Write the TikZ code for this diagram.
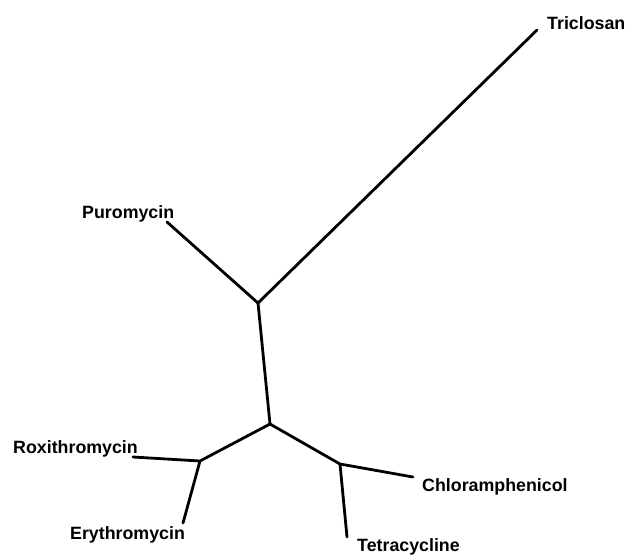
\documentclass[tikz,border=0pt]{standalone}
\usepackage{fontspec}
\setmainfont{Liberation Sans}
\begin{document}
\begin{tikzpicture}[x=1pt,y=-1pt,
  branch/.style={line width=2.8pt,line cap=round},
  taxon/.style={font=\fontsize{17.8}{20}\selectfont\bfseries,inner sep=0pt}]
\useasboundingbox (0,0) rectangle (628,555);
\coordinate (A) at (258,303);
\coordinate (B) at (270,424);
\coordinate (C) at (200,461);
\coordinate (D) at (340,464);
\coordinate (tT) at (537,30);
\coordinate (tP) at (167,222);
\coordinate (tR) at (133,457);
\coordinate (tE) at (183,523);
\coordinate (tC) at (413,477);
\coordinate (tTe) at (347,537);
\node[taxon,anchor=west] (Tri) at (547,23) {Triclosan};
\node[taxon,anchor=west] (Pur) at (82,214) {Puromycin};
\node[taxon,anchor=west] (Rox) at (13,449) {Roxithromycin};
\node[taxon,anchor=west] (Ery) at (70,535) {Erythromycin};
\node[taxon,anchor=west] (Chl) at (422,487) {Chloramphenicol};
\node[taxon,anchor=west] (Tet) at (357,547) {Tetracycline};
\draw[branch] (tT) -- (A) -- (tP);
\draw[branch] (A) -- (B);
\draw[branch] (B) -- (C) -- (tR);
\draw[branch] (C) -- (tE);
\draw[branch] (B) -- (D) -- (tC);
\draw[branch] (D) -- (tTe);
\end{tikzpicture}
\end{document}
